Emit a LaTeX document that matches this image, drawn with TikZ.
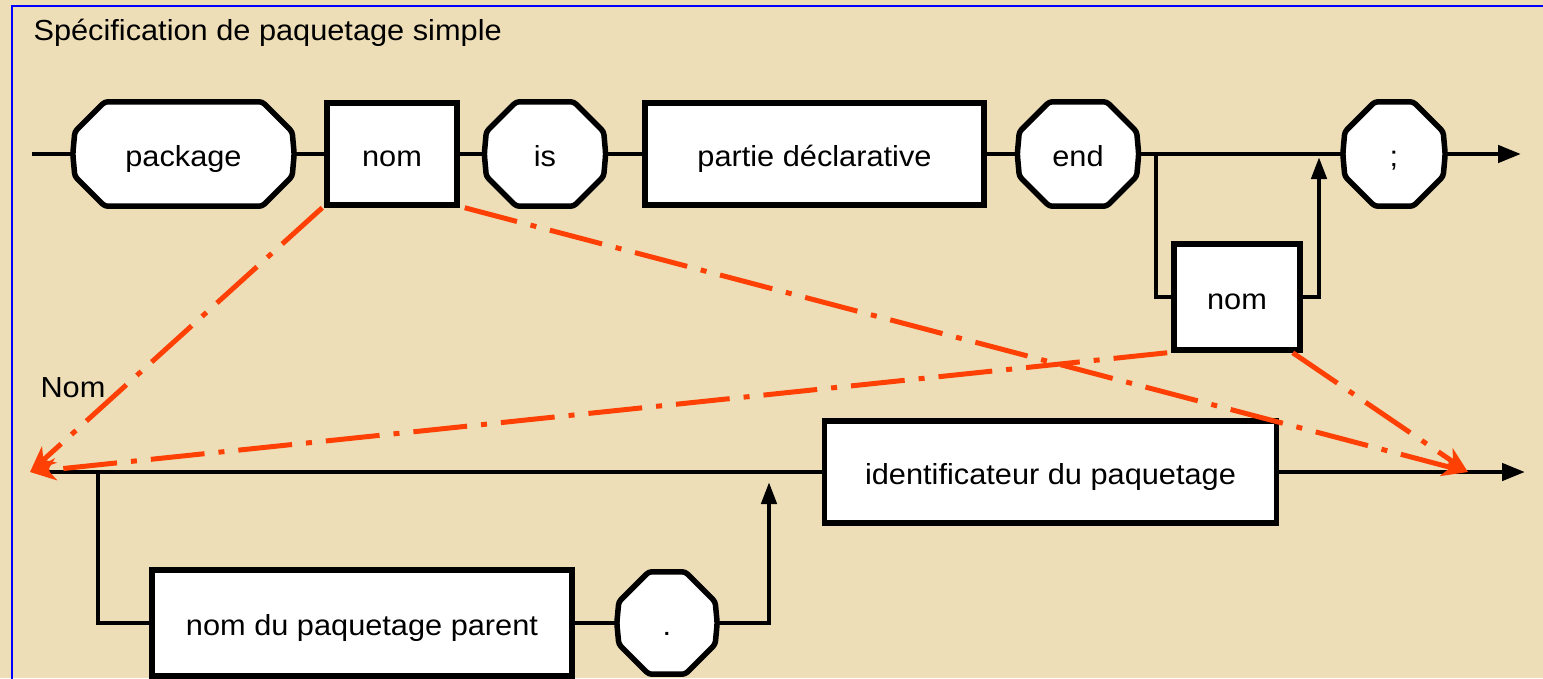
\documentclass[tikz,border=0pt]{standalone}
\usepackage{fontspec}
\newfontfamily\dfont[FakeStretch=1.06]{Liberation Sans}
\usetikzlibrary{arrows.meta,calc}
\definecolor{parch}{RGB}{237,222,183}
\definecolor{redline}{RGB}{255,64,5}
\pgfdeclarelayer{back}
\pgfdeclarelayer{lines}
\pgfdeclarelayer{oct}
\pgfsetlayers{back,lines,oct,main}
\tikzset{
  txt/.style={font=\dfont\fontsize{29}{34}\selectfont, text=black},
  ctxt/.style={txt, text height=26pt, text depth=2pt},
  boxnode/.style={ctxt, draw=black, line width=5.5pt, fill=white, inner sep=0pt, minimum width=#1, minimum height=102pt},
  octnode/.style={ctxt, inner sep=0pt, minimum width=#1, minimum height=104pt},
  outl/.style={draw=black, line width=5.5pt, line join=round, rounded corners=3pt},
  conn/.style={draw=black, line width=4.5pt},
  connarrow/.style={conn, -{Triangle[length=23pt,width=17pt]}},
  uparrow/.style={conn, -{Triangle[length=22pt,width=15pt]}},
  redarrow/.style={draw=redline, line width=5pt, dash pattern=on 54pt off 14pt on 6pt off 14pt, -{Stealth[length=26pt,width=22pt,inset=8pt]}},
}
\newcommand\octo[2][30]{%
  \begin{pgfonlayer}{oct}
  \draw[outl, fill=white] ([xshift=#1]#2.north west) -- ([xshift=-#1]#2.north east) -- ([yshift=-#1]#2.north east) -- ([xshift=2]#2.east) -- ([yshift=#1]#2.south east) -- ([xshift=-#1]#2.south east) -- ([xshift=#1]#2.south west) -- ([yshift=#1]#2.south west) -- ([xshift=-2]#2.west) -- ([yshift=-#1]#2.north west) -- cycle;
  \end{pgfonlayer}}
\begin{document}
\begin{tikzpicture}[x=1pt,y=-1pt]
\useasboundingbox (0,0) rectangle (1543,678);
\begin{pgfonlayer}{back}
  \fill[parch] (0,0) rectangle (1543,678);
  \draw[blue, line width=2pt] (1560,6) -- (12,6) -- (12,690);
\end{pgfonlayer}

\node[txt, anchor=west] (title) at (30,33) {Spécification de paquetage simple};
\node[txt, anchor=west] (nomlabel) at (37,388) {Nom};

% top row
\node[octnode=217pt] (pk) at (183.5,154) {package};
\octo{pk}
\node[boxnode=130pt] (nm1) at (392,154) {nom};
\node[octnode=117pt] (is) at (545,154) {is};
\octo{is}
\node[boxnode=339pt] (pd) at (814.5,154) {partie déclarative};
\node[octnode=117pt] (en) at (1078,154) {end};
\octo{en}
\node[octnode=98pt] (sc) at (1394,154) {;};
\octo{sc}
\node[boxnode=126pt, minimum height=106pt] (nm2) at (1237,297) {nom};

% bottom rows
\node[boxnode=452pt] (id) at (1050.5,472) {identificateur du paquetage};
\node[boxnode=420pt, minimum height=106pt] (pp) at (362,623) {nom du paquetage parent};
\node[octnode=96pt, minimum height=102pt] (dot) at (667,623) {.};
\octo{dot}

\coordinate (s1) at (32,154);
\coordinate (e1) at (1521,154);
\coordinate (b1) at (1156,154);
\coordinate (b2) at (1319,157);
\coordinate (s2) at (44,472);
\coordinate (e2) at (1525,472);
\coordinate (b3) at (98,472);
\coordinate (b4) at (769,482);
\coordinate (tipL) at (30,472);
\coordinate (tipR) at (1468,472);

\begin{pgfonlayer}{lines}
  \draw[conn] (s1) -- (pk.west);
  \draw[conn] (pk.east) -- (nm1.west);
  \draw[conn] (nm1.east) -- (is.west);
  \draw[conn] (is.east) -- (pd.west);
  \draw[conn] (pd.east) -- (en.west);
  \draw[conn] (en.east) -- (sc.west);
  \draw[connarrow] (sc.east) -- (e1);
  \draw[conn] (b1) |- (nm2.west);
  \draw[uparrow] (nm2.east) -| (b2);
  \draw[conn] (s2) -- (id.west);
  \draw[connarrow] (id.east) -- (e2);
  \draw[conn] (b3) |- (pp.west);
  \draw[conn] (pp.east) -- (dot.west);
  \draw[uparrow] (dot.east) -| (b4);
\end{pgfonlayer}

\draw[redarrow] ([xshift=-2pt]nm1.south west) -- (tipL);
\draw[redarrow] ([xshift=5pt]nm1.south east) -- (tipR);
\draw[redarrow] ([xshift=-4pt]nm2.south west) -- (tipL);
\draw[redarrow] ([xshift=-10pt]nm2.south east) -- (tipR);
\end{tikzpicture}
\end{document}
